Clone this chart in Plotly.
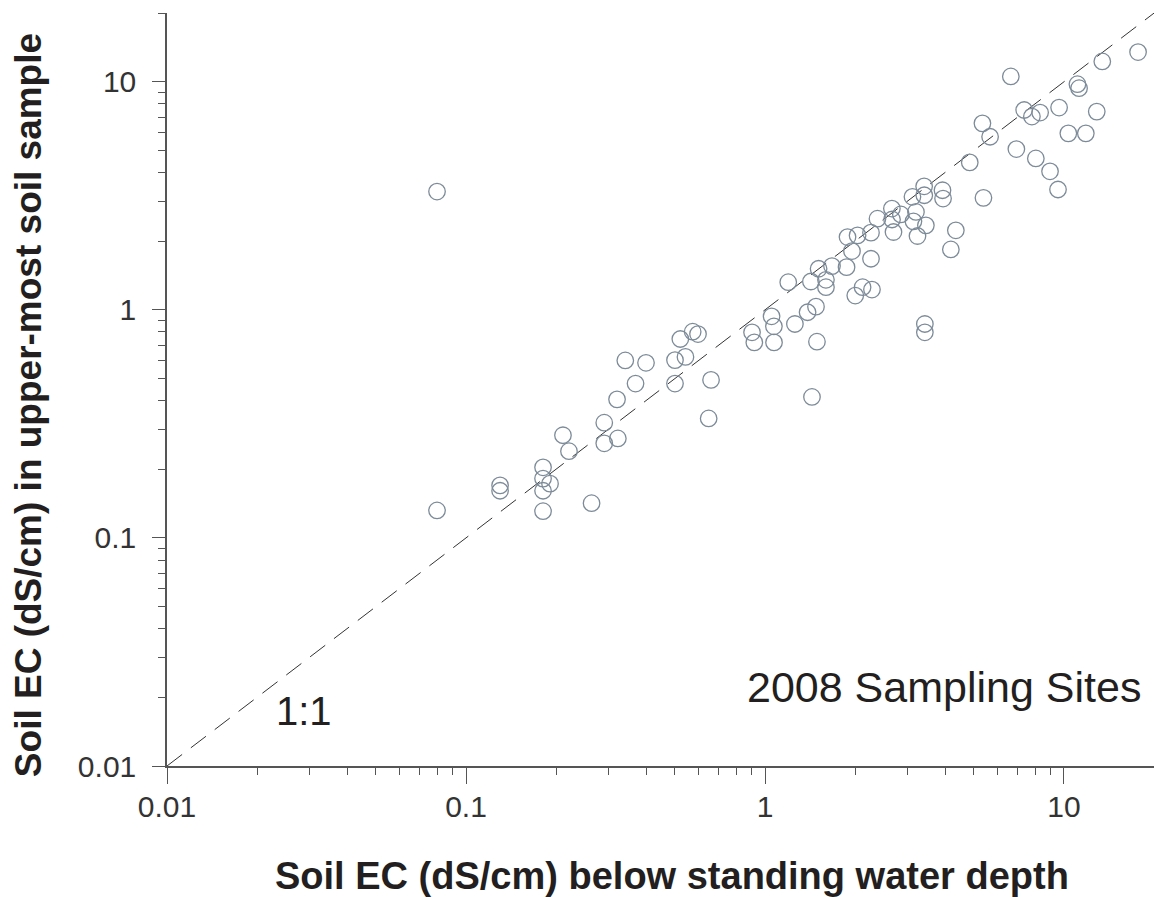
import plotly.graph_objects as go

# Soil EC (dS/cm) for the 2008 sampling sites
ec_below_water = [
    0.080, 0.080, 0.130, 0.130, 0.181, 0.181, 0.191, 0.181, 0.181, 0.211,
    0.221, 0.263, 0.290, 0.290, 0.322, 0.320, 0.369, 0.341, 0.400, 0.500,
    0.500, 0.542, 0.521, 0.573, 0.597, 0.660, 0.648, 0.905, 0.921, 1.052,
    1.071, 1.072, 1.196, 1.259, 1.388, 1.481, 1.492, 1.436, 1.424, 1.511,
    1.599, 1.599, 1.675, 1.874, 1.954, 1.888, 2.040, 2.262, 2.262, 2.004,
    2.120, 2.279, 3.425, 3.425, 4.184, 2.378, 2.657, 2.660, 2.690, 2.847,
    3.113, 3.406, 3.410, 3.198, 3.137, 3.452, 3.236, 3.923, 3.940, 4.348,
    4.840, 5.378, 6.640, 5.336, 5.660, 7.360, 7.810, 8.320, 6.930, 8.050,
    8.980, 9.550, 9.630, 11.09, 11.23, 10.34, 11.83, 12.87, 13.43, 17.69,
]
ec_upper_sample = [
    3.300, 0.132, 0.170, 0.161, 0.204, 0.182, 0.173, 0.161, 0.131, 0.282,
    0.240, 0.142, 0.320, 0.260, 0.273, 0.405, 0.475, 0.600, 0.586, 0.475,
    0.602, 0.622, 0.745, 0.802, 0.783, 0.493, 0.334, 0.797, 0.720, 0.937,
    0.847, 0.720, 1.322, 0.867, 0.976, 1.033, 0.725, 0.415, 1.331, 1.514,
    1.257, 1.354, 1.555, 1.539, 1.810, 2.085, 2.120, 2.180, 1.675, 1.155,
    1.257, 1.227, 0.867, 0.797, 1.840, 2.510, 2.780, 2.490, 2.194, 2.620,
    3.130, 3.480, 3.180, 2.687, 2.443, 2.347, 2.107, 3.345, 3.076, 2.232,
    4.430, 3.097, 10.55, 6.570, 5.740, 7.520, 7.040, 7.330, 5.070, 4.610,
    4.050, 3.370, 7.710, 9.760, 9.370, 5.940, 5.940, 7.400, 12.28, 13.50,
]

# 1:1 reference line end points
one_to_one = [0.01, 20]

major_ticks = [0.01, 0.1, 1, 10]
major_labels = ["0.01", "0.1", "1", "10"]
minor_ticks = [m * d for d in (0.01, 0.1, 1) for m in range(2, 10)] + [10 * m for m in range(2, 10)]

FONT = "Liberation Sans, Arial, sans-serif"
TEXT = "#231f20"
AXIS = "#555555"
MARKER = "#7d8b99"

fig = go.Figure()

fig.add_trace(go.Scatter(
    x=one_to_one, y=one_to_one, mode="lines",
    line=dict(color="#333333", width=1, dash="19px,11px"),
    hoverinfo="skip", showlegend=False,
))

fig.add_trace(go.Scatter(
    x=ec_below_water, y=ec_upper_sample, mode="markers",
    marker=dict(symbol="circle-open", size=16.5, color=MARKER,
                line=dict(color=MARKER, width=1.3)),
    showlegend=False,
))

axis_common = dict(
    type="log",
    tickvals=major_ticks, ticktext=major_labels,
    ticks="outside", tickcolor=AXIS, tickwidth=1.3,
    showline=True, linecolor=AXIS, linewidth=1.5,
    showgrid=False, zeroline=False,
    tickfont=dict(family=FONT, size=30, color="#333333"),
)

fig.update_xaxes(
    **axis_common,
    range=[-2, 1.30103],
    ticklen=16,
    ticklabelstandoff=-3,
    minor=dict(tickvals=minor_ticks, ticks="outside", ticklen=7,
               tickcolor=AXIS, tickwidth=1.1, showgrid=False),
)
fig.update_yaxes(
    **axis_common,
    range=[-2, 1.3015],
    ticklen=13,
    ticklabelstandoff=10,
    minor=dict(tickvals=minor_ticks, ticks="outside", ticklen=7,
               tickcolor=AXIS, tickwidth=1.1, showgrid=False),
)

annotations = [
    dict(text="<b>Soil EC (dS/cm) below standing water depth</b>",
         x=0.5117, y=-0.146, xref="paper", yref="paper",
         xanchor="center", yanchor="middle", showarrow=False,
         font=dict(family=FONT, size=38, color=TEXT)),
    dict(text="<b>Soil EC (dS/cm) in upper-most soil sample</b>",
         x=-0.141, y=0.479, xref="paper", yref="paper", textangle=-90,
         xanchor="center", yanchor="middle", showarrow=False,
         font=dict(family=FONT, size=37, color=TEXT)),
    dict(text="2008 Sampling Sites",
         x=0.7877, y=0.105, xref="paper", yref="paper",
         xanchor="center", yanchor="middle", showarrow=False,
         font=dict(family=FONT, size=43, color=TEXT)),
    dict(text="1:1",
         x=0.1383, y=0.073, xref="paper", yref="paper",
         xanchor="center", yanchor="middle", showarrow=False,
         font=dict(family=FONT, size=40, color=TEXT)),
]

fig.update_layout(
    width=1154, height=897,
    margin=dict(l=167, r=0, t=13, b=131, pad=0),
    paper_bgcolor="white", plot_bgcolor="white",
    annotations=annotations,
    font=dict(family=FONT, color=TEXT),
)

fig.write_html("out.html")
